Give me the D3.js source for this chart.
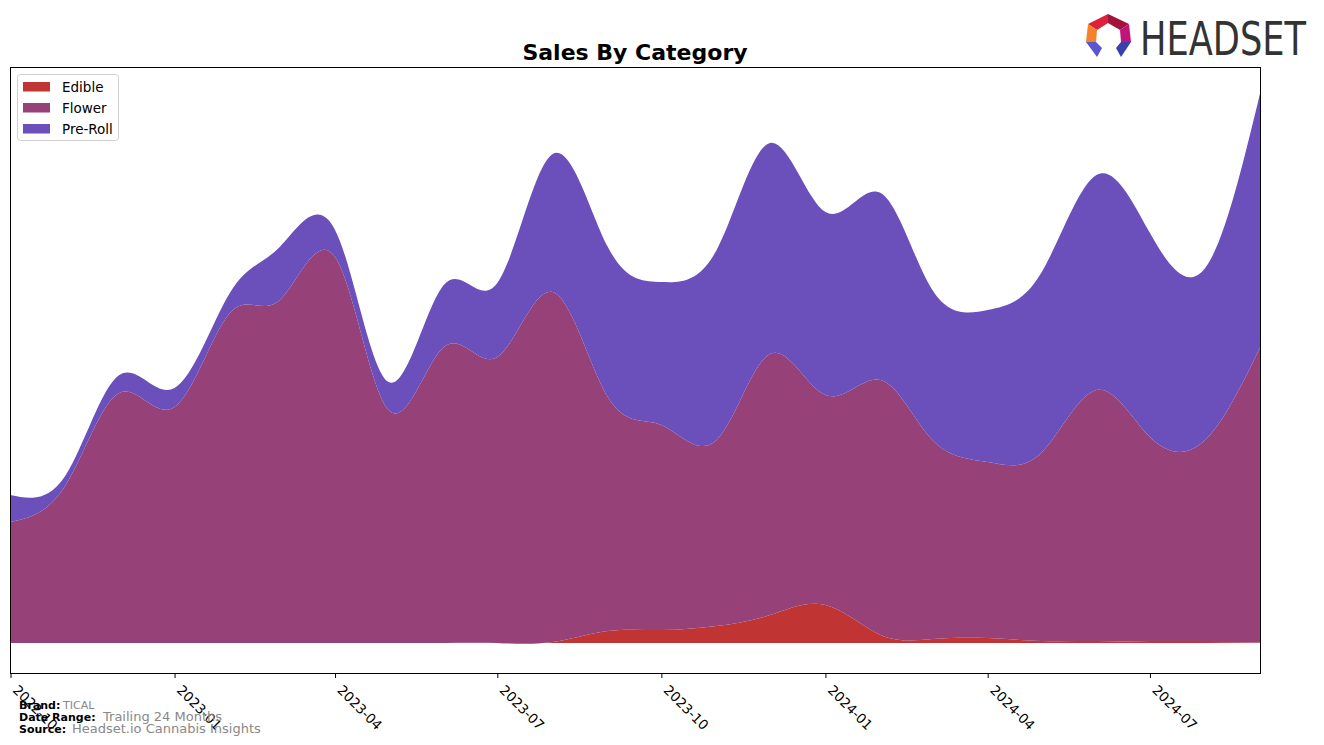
<!DOCTYPE html>
<html>
<head>
<meta charset="utf-8">
<script src="https://cdn.jsdelivr.net/npm/d3@7"></script>
<style>
  html, body { margin: 0; padding: 0; background: #fff; }
  svg { display: block; font-family: "DejaVu Sans", sans-serif; }
</style>
</head>
<body>
<svg id="chart" width="1324" height="745"></svg>
<script>
// ---- data ----
const months = ["2022-10","2022-11","2022-12","2023-01","2023-02","2023-03","2023-04","2023-05",
                "2023-06","2023-07","2023-08","2023-09","2023-10","2023-11","2023-12","2024-01",
                "2024-02","2024-03","2024-04","2024-05","2024-06","2024-07","2024-08","2024-09"];
const edible  = [0, 0, 0, 0, 0, 0, 0, 0, 0, 0, 1, 12, 13, 17, 28, 38, 8, 4, 5, 2, 2, 1, 1, 0.5];
const flower  = [121, 158, 250, 236, 330, 343, 386, 233, 296, 286, 350, 234, 205, 186, 261, 210, 255, 199, 176, 188, 251, 205, 202, 296];
const preRoll = [27, 10, 18, 19, 20, 53, 27, 28, 62, 74, 138, 150, 143, 190, 211, 183, 187, 150, 152, 180, 215, 204, 172, 255];
const seriesNames = ["Edible", "Flower", "Pre-Roll"];
const seriesColors = ["#c13434", "#964177", "#6b4fbb"];
const tickLabels = ["2022-10","2023-01","2023-04","2023-07","2023-10","2024-01","2024-04","2024-07"];
const yDomain = [-30.5, 575.5];

// ---- layout ----
const svg = d3.select("#chart");
const plot = {left: 10.5, right: 1260.5, top: 67.5, bottom: 673.5};
const parse = d3.timeParse("%Y-%m");

const rows = months.map((m, i) => ({date: parse(m), "Edible": edible[i], "Flower": flower[i], "Pre-Roll": preRoll[i]}));
const stack = d3.stack().keys(seriesNames);
const layers = stack(rows);

const x = d3.scaleTime().domain(d3.extent(rows, r => r.date)).range([plot.left, plot.right]);
const y = d3.scaleLinear().domain(yDomain).range([plot.bottom, plot.top]);

svg.append("defs").append("clipPath").attr("id", "clip")
  .append("rect").attr("x", plot.left).attr("y", plot.top)
  .attr("width", plot.right - plot.left).attr("height", plot.bottom - plot.top);

const area = d3.area()
  .x(d => x(d.data.date))
  .y0(d => y(d[0]))
  .y1(d => y(d[1]))
  .curve(d3.curveNatural);

svg.append("g").attr("clip-path", "url(#clip)")
  .selectAll("path").data(layers).join("path")
  .attr("d", area)
  .attr("fill", (d, i) => seriesColors[i]);

// frame
svg.append("rect").attr("x", plot.left).attr("y", plot.top)
  .attr("width", plot.right - plot.left).attr("height", plot.bottom - plot.top)
  .attr("fill", "none").attr("stroke", "#000").attr("stroke-width", 1);

// x axis
const tickDates = tickLabels.map(parse);
const xAxis = d3.axisBottom(x).tickValues(tickDates).tickSize(5).tickFormat(d3.timeFormat("%Y-%m"));
const gx = svg.append("g").attr("transform", `translate(0,${plot.bottom - 0.5})`).call(xAxis);
gx.select(".domain").remove();
gx.selectAll(".tick line").attr("stroke", "#000");
gx.selectAll(".tick text")
  .attr("font-size", "13.5px")
  .attr("font-family", "DejaVu Sans, sans-serif")
  .attr("fill", "#000")
  .attr("text-anchor", "start")
  .attr("y", 0).attr("dy", 0)
  .attr("transform", "translate(1,18) rotate(45)");

// title
svg.append("text").attr("x", 635).attr("y", 60).attr("text-anchor", "middle")
  .attr("font-size", "22px").attr("font-weight", "bold").attr("fill", "#000")
  .text("Sales By Category");

// legend
const lg = svg.append("g");
lg.append("rect").attr("x", 17.5).attr("y", 74.5).attr("width", 101).attr("height", 66)
  .attr("rx", 3).attr("fill", "#fff").attr("fill-opacity", 0.8).attr("stroke", "#d0d0d0");
seriesNames.forEach((name, i) => {
  lg.append("rect").attr("x", 23).attr("y", 82 + i * 21).attr("width", 27).attr("height", 9.5)
    .attr("fill", seriesColors[i]);
  lg.append("text").attr("x", 62).attr("y", 92 + i * 21)
    .attr("font-size", "13.5px").attr("fill", "#000").text(name);
});

// footer
const foot = [
  {label: "Brand:", value: "TICAL", y: 708.5, vx: 63, vs: 11},
  {label: "Date Range:", value: "Trailing 24 Months", y: 721, vx: 103, vs: 13},
  {label: "Source:", value: "Headset.io Cannabis Insights", y: 733, vx: 72, vs: 13}
];
foot.forEach(f => {
  svg.append("text").attr("x", 19).attr("y", f.y).attr("font-size", "11px")
    .attr("font-weight", "bold").attr("fill", "#000").text(f.label);
  svg.append("text").attr("x", f.vx).attr("y", f.y).attr("font-size", f.vs + "px")
    .attr("fill", "#888").text(f.value);
});

// logo
const logo = svg.append("g");
const pieces = [
  {c: "#e0203a", p: [[1088,24],[1108,14],[1108,23],[1097,30]]},
  {c: "#a3123a", p: [[1108,14],[1129,24],[1120,30],[1108,23]]},
  {c: "#f5822a", p: [[1088,24],[1097,30],[1096,42],[1086,42]]},
  {c: "#c0147a", p: [[1129,24],[1131,42],[1121,42],[1120,30]]},
  {c: "#5a55d0", p: [[1086,42],[1096,42],[1102,48],[1097,57]]},
  {c: "#3a3fb0", p: [[1131,42],[1121,42],[1116,48],[1121,57]]}
];
pieces.forEach(pc => logo.append("polygon").attr("points", pc.p.map(q => q.join(",")).join(" ")).attr("fill", pc.c));
logo.append("text").attr("x", 1140).attr("y", 55).attr("font-size", "46px")
  .attr("font-family", "DejaVu Sans, sans-serif")
  .attr("textLength", 166).attr("lengthAdjust", "spacingAndGlyphs")
  .attr("fill", "#333").text("HEADSET");
</script>
</body>
</html>
